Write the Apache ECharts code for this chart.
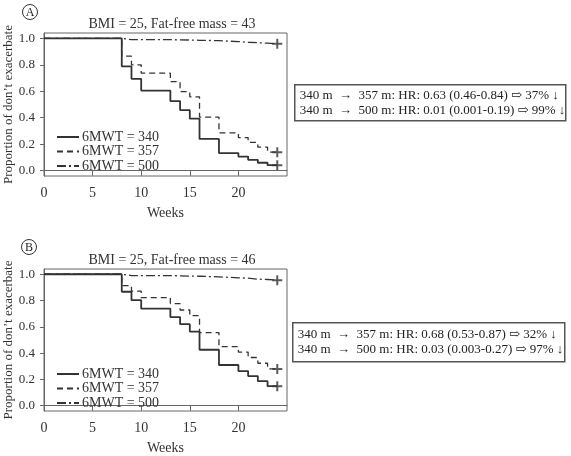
<!DOCTYPE html>
<html>
<head>
<meta charset="utf-8">
<script src="https://cdn.jsdelivr.net/npm/echarts@6/dist/echarts.min.js"></script>
<style>
  html, body { margin: 0; padding: 0; background: #fff; }
  #main { width: 571px; height: 456px; }
</style>
</head>
<body>
<div id="main"></div>
<script>
// event times (weeks), shared by every curve
const weeks = [0, 8, 9, 10, 13, 14, 15, 16, 18, 20, 21, 22, 23, 24];

// panel A: BMI = 25, fat-free mass = 43
const s340A = [1, 0.788, 0.694, 0.605, 0.526, 0.457, 0.393, 0.24, 0.133, 0.107, 0.082, 0.06, 0.042, 0.042];
const s357A = [1, 0.865, 0.80, 0.737, 0.673, 0.597, 0.558, 0.405, 0.286, 0.25, 0.214, 0.178, 0.14, 0.14];
const s500A = [1, 0.99, 0.99, 0.99, 0.988, 0.987, 0.985, 0.982, 0.975, 0.97, 0.967, 0.963, 0.958, 0.958];

// panel B: BMI = 25, fat-free mass = 46
const s340B = [1, 0.867, 0.803, 0.738, 0.674, 0.62, 0.564, 0.426, 0.31, 0.264, 0.226, 0.187, 0.149, 0.149];
const s357B = [1, 0.913, 0.872, 0.823, 0.777, 0.728, 0.685, 0.556, 0.45, 0.408, 0.367, 0.323, 0.28, 0.28];
const s500B = [1, 0.99, 0.99, 0.99, 0.988, 0.986, 0.985, 0.98, 0.973, 0.97, 0.963, 0.96, 0.955, 0.955];

const seriesNames = ['6MWT = 340', '6MWT = 357', '6MWT = 500'];
const xTicks = [0, 5, 10, 15, 20];
const yTicks = [0, 0.2, 0.4, 0.6, 0.8, 1.0];
const titles = ['BMI = 25, Fat-free mass = 43', 'BMI = 25, Fat-free mass = 46'];
const hrNotesA = [
  '340 m  \u2192  357 m: HR: 0.63 (0.46-0.84) \u21e8 37% \u2193',
  '340 m  \u2192  500 m: HR: 0.01 (0.001-0.19) \u21e8 99% \u2193'
];
const hrNotesB = [
  '340 m  \u2192  357 m: HR: 0.68 (0.53-0.87) \u21e8 32% \u2193',
  '340 m  \u2192  500 m: HR: 0.03 (0.003-0.27) \u21e8 97% \u2193'
];

const FONT = '"Liberation Serif", "DejaVu Serif", serif';
const INK = '#333';
const dashes = ['solid', [6, 4], [9, 3, 2, 3]];
const plusPath = 'path://M4,0H6V4H10V6H6V10H4V6H0V4H4Z';

function pairs(vals) {
  return weeks.map((w, i) => [w, vals[i]]);
}

function xAxisFor(idx) {
  return {
    gridIndex: idx, type: 'value', min: 0, max: 25,
    name: 'Weeks', nameLocation: 'middle', nameGap: 30,
    nameTextStyle: { fontFamily: FONT, fontSize: 14, color: INK },
    axisLine: { show: true, lineStyle: { color: '#666', width: 1 } },
    axisTick: { show: true, length: 5, customValues: xTicks, lineStyle: { color: '#666' } },
    axisLabel: { customValues: xTicks, margin: 10, fontFamily: FONT, fontSize: 14, color: INK },
    splitLine: { show: false }
  };
}

function yAxisFor(idx) {
  return {
    gridIndex: idx, type: 'value', min: -0.04, max: 1.04,
    name: 'Proportion of don\u2019t exacerbate', nameLocation: 'middle', nameGap: 28,
    nameTextStyle: { fontFamily: FONT, fontSize: 13, color: INK },
    axisLine: { show: true, lineStyle: { color: '#666', width: 1 } },
    axisTick: { show: true, length: 4, customValues: yTicks, lineStyle: { color: '#666' } },
    axisLabel: {
      customValues: yTicks, margin: 9, fontFamily: FONT, fontSize: 13, color: INK,
      formatter: v => v.toFixed(1)
    },
    splitLine: { show: false }
  };
}

function curves(idx, sets) {
  const out = sets.map((vals, k) => ({
    name: seriesNames[k], type: 'line', step: 'end',
    xAxisIndex: idx, yAxisIndex: idx,
    data: pairs(vals), symbol: 'none',
    lineStyle: { color: INK, width: k === 0 ? 1.8 : 1.3, type: dashes[k] },
    itemStyle: { color: INK },
    animation: false
  }));
  // censor marks at the last follow-up time
  out.push({
    name: 'censor' + idx, type: 'scatter', xAxisIndex: idx, yAxisIndex: idx,
    data: sets.map(vals => [weeks[weeks.length - 1], vals[vals.length - 1]]),
    symbol: plusPath, symbolSize: 10, itemStyle: { color: INK },
    animation: false
  });
  return out;
}

function legendAt(top) {
  return {
    data: seriesNames, orient: 'vertical', left: 51, top: top, itemGap: 0.5,
    itemWidth: 22, itemHeight: 13,
    itemStyle: { opacity: 0 },
    textStyle: { fontFamily: FONT, fontSize: 14, color: INK, padding: [0, 0, 0, -2] }
  };
}

function noteBox(x, y, w, h, lines) {
  return {
    type: 'group', left: x, top: y,
    children: [
      { type: 'rect', shape: { x: 0, y: 0, width: w, height: h },
        style: { fill: '#fff', stroke: '#555', lineWidth: 1.5 } },
      { type: 'text', x: 5, y: h / 2,
        style: { text: lines.join('\n'), font: '13px ' + FONT, lineHeight: 15,
                 fill: '#222', verticalAlign: 'middle' } }
    ]
  };
}

function circled(cx, cy, letter) {
  return {
    type: 'group', left: cx - 8, top: cy - 8,
    children: [
      { type: 'circle', shape: { cx: 8, cy: 8, r: 7.5 }, style: { fill: 'none', stroke: '#333', lineWidth: 1 } },
      { type: 'text', x: 8, y: 8.5, style: { text: letter, font: '12px ' + FONT, fill: '#222', align: 'center', verticalAlign: 'middle' } }
    ]
  };
}

const chart = echarts.init(document.getElementById('main'), null, { renderer: 'canvas' });

const option = {
  backgroundColor: '#fff',
  animation: false,
  title: [
    { text: titles[0], left: 167, top: 12, textAlign: 'center',
      textStyle: { fontFamily: FONT, fontSize: 14, fontWeight: 'normal', color: INK } },
    { text: titles[1], left: 167, top: 248, textAlign: 'center',
      textStyle: { fontFamily: FONT, fontSize: 14, fontWeight: 'normal', color: INK } }
  ],
  grid: [
    { left: 44, top: 33, width: 243, height: 143, show: true, borderColor: '#666', borderWidth: 1 },
    { left: 44, top: 269, width: 243, height: 142, show: true, borderColor: '#666', borderWidth: 1 }
  ],
  xAxis: [xAxisFor(0), xAxisFor(1)],
  yAxis: [yAxisFor(0), yAxisFor(1)],
  legend: [legendAt(125), legendAt(362)],
  series: [].concat(
    curves(0, [s340A, s357A, s500A]),
    curves(1, [s340B, s357B, s500B])
  ),
  graphic: [
    circled(28, 10, 'A'),
    circled(27, 245, 'B'),
    noteBox(294, 84, 271, 36, hrNotesA),
    noteBox(292, 322, 272, 39, hrNotesB)
  ]
};

chart.setOption(option);
</script>
</body>
</html>
